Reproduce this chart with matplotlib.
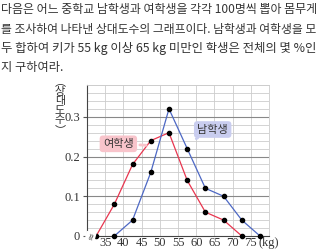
import matplotlib
matplotlib.use("Agg")
import matplotlib.pyplot as plt
from matplotlib.ticker import MultipleLocator

plt.rcParams["font.family"] = ["Noto Sans CJK KR", "DejaVu Sans"]

# data: class midpoints (kg) and relative frequency
girls_x = [32.5, 37.5, 42.5, 47.5, 52.5, 57.5, 62.5, 67.5, 72.5]
girls_y = [0, 0.08, 0.18, 0.24, 0.26, 0.14, 0.06, 0.04, 0]
boys_x = [37.5, 42.5, 47.5, 52.5, 57.5, 62.5, 67.5, 72.5, 77.5]
boys_y = [0, 0.04, 0.16, 0.32, 0.22, 0.12, 0.10, 0.04, 0]
x_ticks = [35, 40, 45, 50, 55, 60, 65, 70, 75, 80]
x_labels = ["35", "40", "45", "50", "55", "60", "65", "70", "75", "(kg)"]
y_ticks = [0, 0.1, 0.2, 0.3]

question = [
    "다음은 어느 중학교 남학생과 여학생을 각각 100명씩 뽑아 몸무게",
    "를 조사하여 나타낸 상대도수의 그래프이다. 남학생과 여학생을 모",
    "두 합하여 키가 55 kg 이상 65 kg 미만인 학생은 전체의 몇 %인",
    "지 구하여라.",
]

red = "#e8364f"
blue = "#4d68c4"
txt = "#333333"

fig = plt.figure(figsize=(3.2, 2.5), dpi=100)
ax = fig.add_axes([0.272, 0.056, 0.569, 0.604])

# question text; the first three lines are justified to the full width
renderer = fig.canvas.get_renderer()
for i, line in enumerate(question):
    t = fig.text(0.004, 1 - (10 + i * 19.3) / 250, line, fontsize=8.5,
                 color=txt, va="center", ha="left")
    if i < 3:
        w = t.get_window_extent(renderer).width
        t.set_fontsize(8.5 * 316 / w)
    else:
        t.set_fontsize(8.8)

ax.set_xlim(30, 80)
ax.set_ylim(0, 0.38)
ax.yaxis.set_minor_locator(MultipleLocator(0.02))
ax.grid(which="minor", axis="y", color="#cccccc", lw=0.6)
ax.grid(which="major", axis="x", color="#cccccc", lw=0.6)
for yv in y_ticks[1:]:
    ax.axhline(yv, color="#888888", lw=0.8, zorder=1)
ax.set_axisbelow(True)

ax.plot(girls_x, girls_y, color=red, lw=0.9, marker="o", ms=3,
        mfc="black", mec="black", zorder=3, clip_on=False)
ax.plot(boys_x, boys_y, color=blue, lw=0.9, marker="o", ms=3,
        mfc="black", mec="black", zorder=3, clip_on=False)

ax.set_xticks(x_ticks)
ax.set_xticklabels(x_labels, family="Liberation Serif", fontsize=9, color=txt)
ax.set_yticks(y_ticks)
ax.set_yticklabels(["0", "0.1", "0.2", "0.3"], family="Liberation Serif",
                   fontsize=9, color=txt)
ax.tick_params(axis="x", length=0, pad=1)
ax.tick_params(axis="y", length=3, pad=2, color="#555555")
ax.tick_params(which="minor", length=0)

for s in ["top", "right"]:
    ax.spines[s].set_color("#cccccc")
    ax.spines[s].set_linewidth(0.6)
for s in ["left", "bottom"]:
    ax.spines[s].set_color("#444444")
    ax.spines[s].set_linewidth(0.8)

# axis break mark
ax.text(31.0, 0.0, "≈", rotation=75, ha="center", va="center",
        fontsize=7, color="#444444", family="DejaVu Sans",
        bbox=dict(fc="white", ec="none", pad=0))

# y label, vertical characters
fig.text(60 / 320, 1 - 106 / 250, "︵\n상\n대\n도\n수\n︶", ha="center",
         va="center", fontsize=8, color=txt, linespacing=0.95)

# series labels
ax.annotate("여학생", xy=(47.0, 0.228), xytext=(38.6, 0.232),
            fontsize=8, color=txt, ha="center", va="center",
            bbox=dict(boxstyle="round,pad=0.3", fc="#f8c4cb", ec="none"),
            arrowprops=dict(arrowstyle="-", color="#f8c4cb", lw=2))
ax.annotate("남학생", xy=(60.0, 0.245), xytext=(64.5, 0.268),
            fontsize=8, color=txt, ha="center", va="center",
            bbox=dict(boxstyle="round,pad=0.3", fc="#c9cdef", ec="none"),
            arrowprops=dict(arrowstyle="-", color="#c9cdef", lw=2))

fig.savefig("out.png", dpi=100)
